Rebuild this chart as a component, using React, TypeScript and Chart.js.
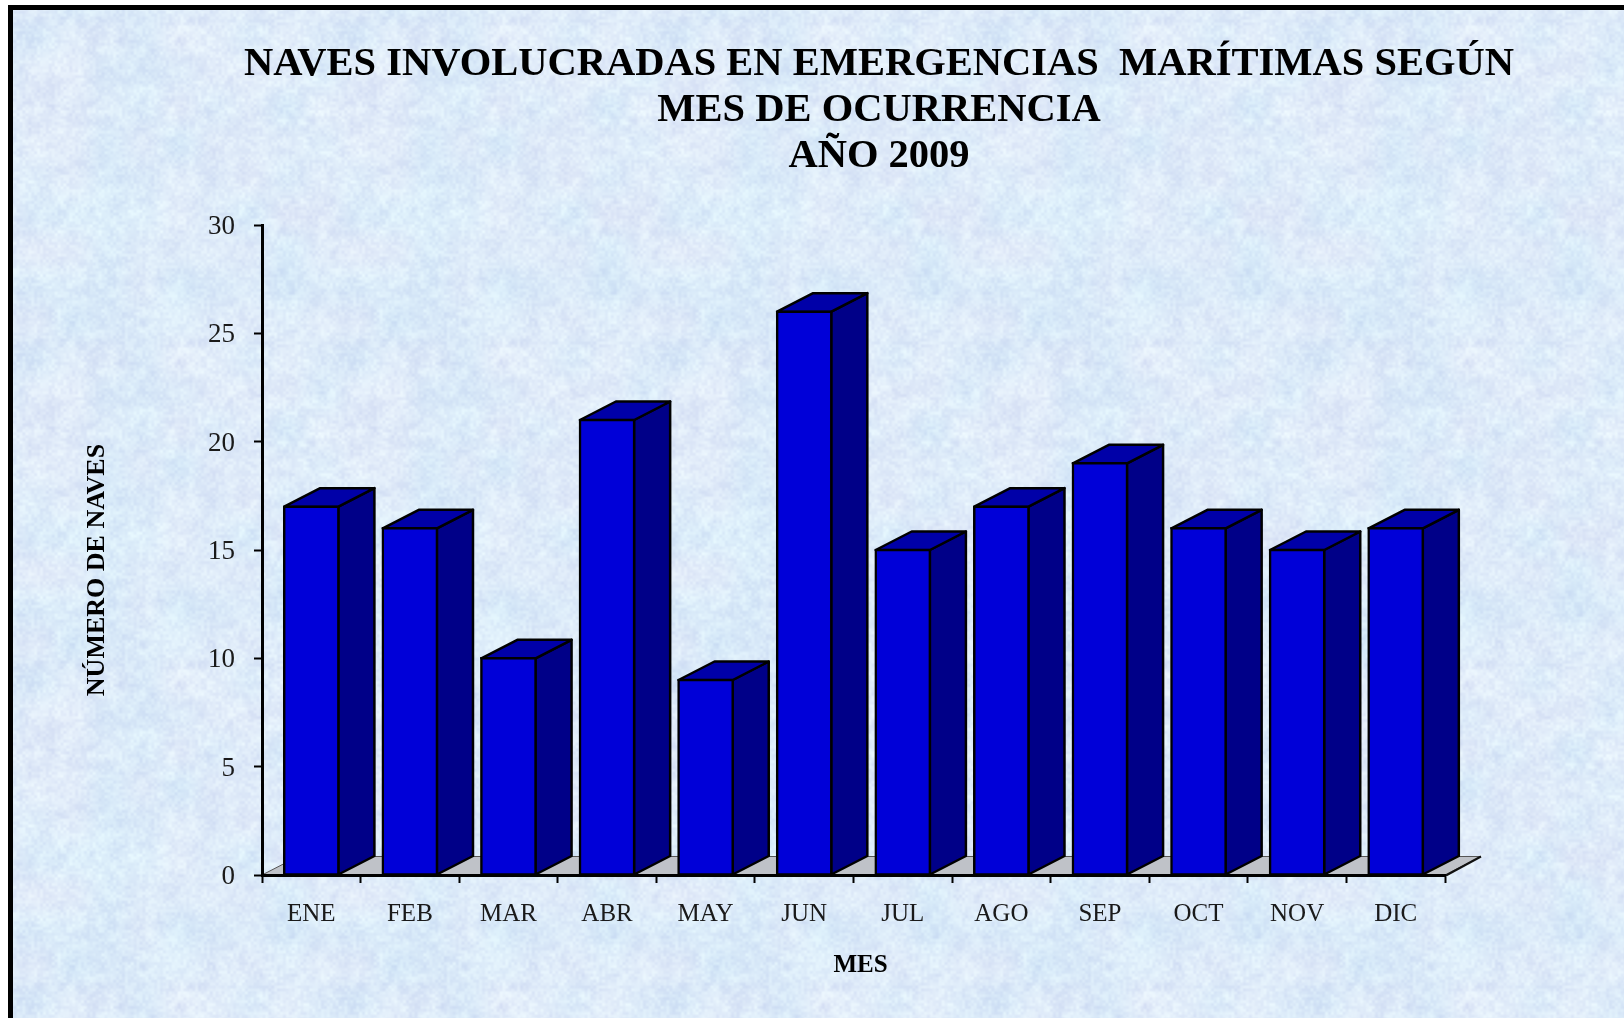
import React, { useEffect, useRef } from "react";
import { Chart, registerables } from "chart.js";

Chart.register(...registerables);

const months = ["ENE", "FEB", "MAR", "ABR", "MAY", "JUN", "JUL", "AGO", "SEP", "OCT", "NOV", "DIC"];
const ships = [17, 16, 10, 21, 9, 26, 15, 17, 19, 16, 15, 16];
const titleLines = ["NAVES INVOLUCRADAS EN EMERGENCIAS  MARÍTIMAS SEGÚN", "MES DE OCURRENCIA", "AÑO 2009"];
const xAxisTitle = "MES";
const yAxisTitle = "NÚMERO DE NAVES";

const SERIF = "'Liberation Serif', serif";
const DEPTH_X = 36;
const DEPTH_Y = 18.5;

function makeTile(size: number) {
  const tile = document.createElement("canvas");
  tile.width = size;
  tile.height = size;
  const c = tile.getContext("2d")!;
  const img = c.createImageData(size, size);
  const hash = (i: number, j: number, p: number, s: number) => {
    const v = Math.sin(((i % p) + 1) * 127.1 + ((j % p) + 1) * 311.7 + s * 74.7) * 43758.5453;
    return v - Math.floor(v);
  };
  const smooth = (t: number) => t * t * (3 - 2 * t);
  const noise = (x: number, y: number, p: number, s: number) => {
    const fx = (x / size) * p;
    const fy = (y / size) * p;
    const i = Math.floor(fx);
    const j = Math.floor(fy);
    const u = smooth(fx - i);
    const v = smooth(fy - j);
    const a = hash(i, j, p, s) * (1 - u) + hash(i + 1, j, p, s) * u;
    const b = hash(i, j + 1, p, s) * (1 - u) + hash(i + 1, j + 1, p, s) * u;
    return a * (1 - v) + b * v;
  };
  for (let y = 0; y < size; y++) {
    for (let x = 0; x < size; x++) {
      const broad = noise(x, y, 6, 1) - 0.5;
      const mid = noise(x, y, 32, 2) - 0.5;
      const fine = noise(x, y, 110, 3) - 0.5;
      const hue = noise(x, y, 9, 4) - 0.5;
      const k = broad * 7 + mid * 14 + fine * 14;
      const o = (y * size + x) * 4;
      img.data[o] = 221 + k + hue * 10;
      img.data[o + 1] = 235 + k;
      img.data[o + 2] = 249 + k * 0.4;
      img.data[o + 3] = 255;
    }
  }
  c.putImageData(img, 0, 0);
  return tile;
}

const shiftScaleDraw = (scale: any, method: string, dx: number, dy: number) => {
  const flag = "__shifted_" + method;
  if (scale[flag]) return;
  scale[flag] = true;
  const original = scale[method];
  scale[method] = function (...args: any[]) {
    const ctx = this.ctx;
    ctx.save();
    ctx.translate(dx, dy);
    original.apply(this, args);
    ctx.restore();
  };
};

const scenePlugin = {
  id: "scene",
  afterLayout(chart: any) {
    const block = chart.titleBlock;
    if (block && !block.__shifted) {
      block.__shifted = true;
      const shift = 879 - (block.left + block.right) / 2;
      block.left += shift;
      block.right += shift;
    }
    shiftScaleDraw(chart.scales.x, "drawTitle", 7, 0);
    shiftScaleDraw(chart.scales.y, "drawTitle", 0, 20);
    shiftScaleDraw(chart.scales.y, "drawLabels", 0, 2);
  },
  beforeDraw(chart: any) {
    const { ctx, width, height, chartArea } = chart;
    ctx.save();
    ctx.fillStyle = "#ffffff";
    ctx.fillRect(0, 0, width, height);
    ctx.fillStyle = ctx.createPattern(makeTile(322), "repeat");
    ctx.fillRect(13, 10, width - 13, height - 10);
    ctx.fillStyle = "#000000";
    ctx.fillRect(8, 5, width - 8, 5);
    ctx.fillRect(8, 5, 5, height - 5);
    const { left, right, bottom } = chartArea;
    ctx.beginPath();
    ctx.moveTo(left, bottom);
    ctx.lineTo(left + DEPTH_X, bottom - DEPTH_Y);
    ctx.lineTo(right + DEPTH_X, bottom - DEPTH_Y);
    ctx.lineTo(right, bottom);
    ctx.closePath();
    ctx.fillStyle = "#bfc2c8";
    ctx.fill();
    ctx.strokeStyle = "#555555";
    ctx.lineWidth = 1;
    ctx.stroke();
    ctx.beginPath();
    ctx.moveTo(right, bottom + 1);
    ctx.lineTo(right + DEPTH_X, bottom - DEPTH_Y);
    ctx.strokeStyle = "#111111";
    ctx.lineWidth = 2;
    ctx.stroke();
    ctx.restore();
  },
  beforeDatasetsDraw(chart: any) {
    const { ctx } = chart;
    const bars = chart.getDatasetMeta(0).data;
    ctx.save();
    ctx.strokeStyle = "#000000";
    ctx.lineWidth = 2.5;
    ctx.lineJoin = "round";
    bars.forEach((bar: any) => {
      const half = bar.width / 2;
      const r = bar.x + half;
      const l = bar.x - half;
      const t = bar.y;
      const b = bar.base;
      ctx.beginPath();
      ctx.moveTo(r, t);
      ctx.lineTo(r + DEPTH_X, t - DEPTH_Y);
      ctx.lineTo(r + DEPTH_X, b - DEPTH_Y);
      ctx.lineTo(r, b);
      ctx.closePath();
      ctx.fillStyle = "#000088";
      ctx.fill();
      ctx.stroke();
      ctx.beginPath();
      ctx.moveTo(l, t);
      ctx.lineTo(l + DEPTH_X, t - DEPTH_Y);
      ctx.lineTo(r + DEPTH_X, t - DEPTH_Y);
      ctx.lineTo(r, t);
      ctx.closePath();
      ctx.fillStyle = "#0000a8";
      ctx.fill();
      ctx.stroke();
    });
    ctx.restore();
  },
};

export default function App() {
  const ref = useRef<HTMLCanvasElement>(null);

  useEffect(() => {
    document.body.style.margin = "0";
    const chart = new Chart(ref.current!, {
      type: "bar",
      data: {
        labels: months,
        datasets: [
          {
            label: yAxisTitle,
            data: ships,
            backgroundColor: "#0000d8",
            borderColor: "#000000",
            borderWidth: 2.5,
            borderSkipped: false,
            inflateAmount: 1.25,
            barPercentage: 0.55,
            categoryPercentage: 1,
          },
        ],
      },
      plugins: [scenePlugin],
      options: {
        responsive: false,
        animation: false,
        layout: { padding: { left: 0, right: 179, top: 0, bottom: 0 } },
        plugins: {
          legend: { display: false },
          tooltip: { enabled: false },
          title: {
            display: true,
            text: titleLines,
            color: "#000000",
            font: { family: SERIF, size: 40.5, weight: "bold", lineHeight: 46 / 40.5 },
            padding: { top: 42, bottom: 45 },
          },
        },
        scales: {
          x: {
            afterFit: (s: any) => {
              s.height = 143;
            },
            border: { color: "#000000", width: 3 },
            grid: { drawOnChartArea: false, drawTicks: true, tickColor: "#000000", tickWidth: 2, tickLength: 8 },
            ticks: {
              color: "#1a1a1a",
              font: { family: SERIF, size: 25 },
              padding: 16,
              maxRotation: 0,
              autoSkip: false,
            },
            title: {
              display: true,
              text: xAxisTitle,
              color: "#000000",
              font: { family: SERIF, size: 25, weight: "bold" },
              padding: { top: 0, bottom: 37 },
            },
          },
          y: {
            min: 0,
            max: 30,
            afterFit: (s: any) => {
              s.width = 262;
            },
            border: { color: "#000000", width: 3 },
            grid: { drawOnChartArea: false, drawTicks: true, tickColor: "#000000", tickWidth: 2, tickLength: 8 },
            ticks: {
              stepSize: 5,
              color: "#1a1a1a",
              font: { family: SERIF, size: 27 },
              padding: 19,
            },
            title: {
              display: true,
              text: yAxisTitle,
              color: "#000000",
              font: { family: SERIF, size: 26, weight: "bold" },
              padding: { top: 82, bottom: 0 },
            },
          },
        },
      } as any,
    });
    return () => chart.destroy();
  }, []);

  return <canvas ref={ref} width={1624} height={1018} style={{ display: "block" }} />;
}
